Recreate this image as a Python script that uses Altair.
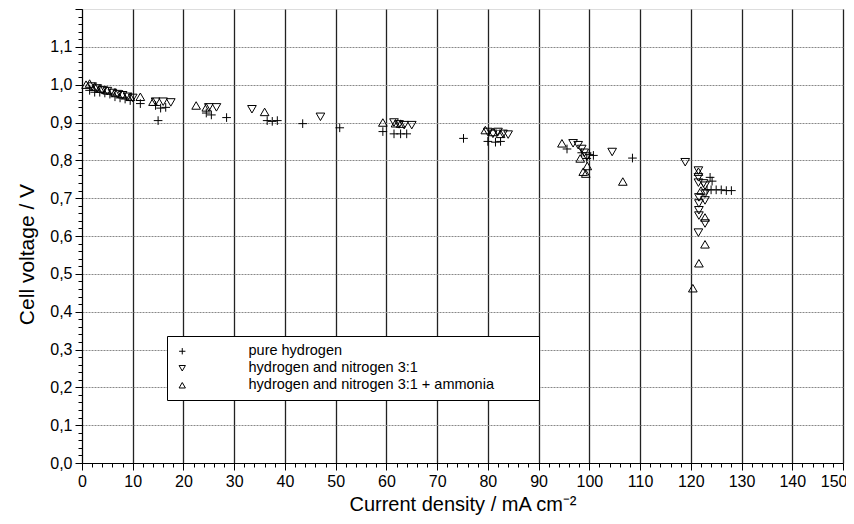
import altair as alt
import pandas as pd

# Series: pure hydrogen (+)
h2_x = [1.5, 2.5, 3.5, 4.5, 5.5, 6.5, 7.5, 8.5, 9.5, 11.5, 14.5, 15.5, 16.5, 15.0,
        24.5, 25.5, 28.5, 36.5, 37.5, 38.5, 43.5, 50.8, 59.3, 61.5, 62.8, 64.0,
        75.2, 80.0, 81.5, 82.5, 95.6, 98.5, 99.5, 100.0, 100.8, 108.5,
        123.8, 124.2, 123.2, 124.0, 125.0, 126.0, 127.0, 128.0]
h2_v = [0.985, 0.98, 0.98, 0.978, 0.975, 0.968, 0.965, 0.962, 0.958, 0.95, 0.945, 0.938, 0.94, 0.905,
        0.925, 0.92, 0.913, 0.905, 0.903, 0.905, 0.897, 0.886, 0.876, 0.87, 0.87, 0.87,
        0.858, 0.85, 0.848, 0.85, 0.83, 0.82, 0.805, 0.815, 0.813, 0.806,
        0.755, 0.745, 0.722, 0.722, 0.722, 0.722, 0.72, 0.72]

# Series: hydrogen and nitrogen 3:1 (down triangles)
n2_x = [2.0, 3.0, 4.0, 5.0, 6.0, 7.0, 8.0, 9.0, 10.0, 14.5, 16.0, 17.5, 25.0, 26.5, 33.5, 47.0,
        61.5, 62.5, 63.5, 65.0, 80.0, 81.0, 82.0, 83.0, 84.0,
        96.8, 97.8, 98.5, 99.0, 99.5, 104.5,
        118.9, 121.5, 121.5, 121.5, 122.5, 122.8, 121.6, 122.8, 121.6, 122.8, 121.6, 121.6, 122.8, 121.5]
n2_v = [0.995, 0.99, 0.985, 0.983, 0.978, 0.975, 0.972, 0.968, 0.965, 0.955, 0.955, 0.953, 0.94, 0.94, 0.935, 0.915,
        0.9, 0.895, 0.893, 0.893, 0.875, 0.87, 0.875, 0.87, 0.868,
        0.845, 0.84, 0.83, 0.82, 0.81, 0.822,
        0.795, 0.773, 0.755, 0.741, 0.739, 0.733, 0.702, 0.712, 0.686, 0.694, 0.668, 0.654, 0.633, 0.609]

# Series: hydrogen and nitrogen 3:1 + ammonia (up triangles)
nh3_x = [0.8, 1.5, 2.5, 3.5, 5.0, 6.5, 8.0, 9.5, 11.5, 14.0, 22.5, 24.5, 36.0,
         59.3, 61.8, 62.8, 79.5, 81.0, 82.5, 94.6, 98.2, 98.8, 99.3, 99.6, 106.6,
         121.5, 122.0, 122.8, 122.8, 121.6, 120.4]
nh3_v = [1.0, 1.003, 0.995, 0.99, 0.985, 0.98, 0.975, 0.968, 0.968, 0.955, 0.945, 0.94, 0.928,
         0.9, 0.898, 0.897, 0.88, 0.875, 0.87, 0.845, 0.805, 0.77, 0.765, 0.785, 0.744,
         0.77, 0.72, 0.649, 0.578, 0.528, 0.462]

labels = ["pure hydrogen", "hydrogen and nitrogen 3:1", "hydrogen and nitrogen 3:1 + ammonia"]

rows = []
for lab, xs, vs in zip(labels, [h2_x, n2_x, nh3_x], [h2_v, n2_v, nh3_v]):
    for xv, vv in zip(xs, vs):
        rows.append({"series": lab, "current": xv, "voltage": vv})
df = pd.DataFrame(rows)

x_tick_values = list(range(0, 151, 2))
y_tick_values = [round(i * 0.02, 2) for i in range(0, 61)]

font = "Liberation Sans"

x_major = "datum.value % 10 === 0"
x_last = "datum.value === 150"
y_major = "abs(datum.value * 10 - round(datum.value * 10)) < 1e-6"

chart = alt.Chart(df).mark_point(filled=False, color="black", size=75, strokeWidth=1, opacity=1).encode(
    x=alt.X("current:Q", scale=alt.Scale(domain=[0, 150], nice=False),
            axis=alt.Axis(values=x_tick_values, title="Current density / mA cm\u207b\u00b2",
                          labelExpr="datum.value % 10 === 0 ? datum.label : ''",
                          labelAlign={"condition": {"test": x_last, "value": "right"}, "value": "center"},
                          labelOffset={"condition": {"test": x_last, "value": 4}, "value": 0},
                          tickSize={"condition": {"test": x_major, "value": 7}, "value": 4},
                          gridOpacity={"condition": {"test": x_major, "value": 1}, "value": 0},
                          gridColor="#222222", gridWidth=1.3,
                          labelFontSize=16, titleFontSize=20, labelFont=font, titleFont=font,
                          titleFontWeight="normal", labelColor="black", titleColor="black",
                          domainColor="black", tickColor="black", labelPadding=3, titlePadding=5,
                          labelFlush=False, labelOverlap=False)),
    y=alt.Y("voltage:Q", scale=alt.Scale(domain=[0, 1.2], nice=False),
            axis=alt.Axis(values=y_tick_values, title="Cell voltage / V",
                          labelExpr=y_major + " && datum.value < 1.15 ? replace(format(datum.value, '.1f'), '.', ',') : ''",
                          tickSize={"condition": {"test": y_major, "value": 7}, "value": 4},
                          gridOpacity={"condition": {"test": y_major + " && datum.value < 1.15", "value": 1}, "value": 0},
                          gridColor="#888888", gridDash=[2, 1], gridWidth=1,
                          labelFontSize=16, titleFontSize=21, labelFont=font, titleFont=font,
                          titleFontWeight="normal", labelColor="black", titleColor="black",
                          domainColor="black", tickColor="black", labelPadding=3, titlePadding=12,
                          titleY=245, labelOverlap=False)),
    shape=alt.Shape("series:N",
                    scale=alt.Scale(domain=labels,
                                    range=["M-1,0H1M0,-1V1", "triangle-down", "triangle-up"]),
                    legend=alt.Legend(orient="none", legendX=85, legendY=327,
                                      title="\u2800\u2800\u2800", titleOrient="right",
                                      titleFont="DejaVu Sans", titleFontSize=14, titlePadding=4,
                                      fillColor="white", strokeColor="black", padding=8,
                                      labelFontSize=14.5, labelFont=font, labelColor="black",
                                      labelOffset=59, symbolSize=40, symbolStrokeColor="black",
                                      symbolStrokeWidth=1, symbolFillColor="transparent",
                                      labelLimit=400)),
).properties(
    width=761, height=454,
    autosize=alt.AutoSizeParams(type="none"),
    padding={"left": 74, "top": 1, "right": 3, "bottom": 53},
).configure_view(stroke="black", strokeWidth=1.2).configure(background="white")

chart.save("out.html", embed_options={"renderer": "svg", "actions": False})
